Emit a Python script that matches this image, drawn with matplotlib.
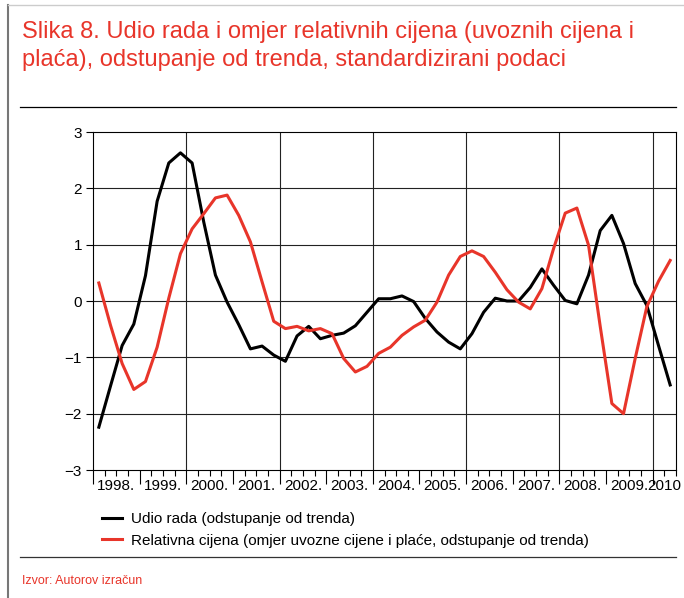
import numpy as np
import matplotlib.pyplot as plt
from matplotlib.lines import Line2D

# quarterly data 1998Q1 - 2010Q2
udio_rada = [-2.24, -1.51, -0.79, -0.41, 0.45, 1.77, 2.45, 2.63, 2.45, 1.40,
             0.46, -0.02, -0.42, -0.85, -0.80, -0.96, -1.07, -0.62, -0.45, -0.67,
             -0.61, -0.57, -0.44, -0.20, 0.04, 0.04, 0.09, -0.01, -0.31, -0.55,
             -0.73, -0.85, -0.58, -0.20, 0.05, 0.00, 0.00, 0.24, 0.57, 0.28,
             0.01, -0.05, 0.46, 1.25, 1.52, 1.02, 0.31, -0.08, -0.79, -1.49]
rel_cijena = [0.32, -0.43, -1.11, -1.57, -1.43, -0.82, 0.05, 0.84, 1.28, 1.55,
              1.83, 1.88, 1.52, 1.05, 0.34, -0.36, -0.49, -0.45, -0.53, -0.49,
              -0.58, -1.02, -1.26, -1.16, -0.93, -0.82, -0.61, -0.46, -0.34, -0.02,
              0.46, 0.79, 0.89, 0.79, 0.51, 0.20, -0.02, -0.14, 0.22, 0.93,
              1.56, 1.65, 0.99, -0.45, -1.82, -2.00, -1.02, -0.10, 0.35, 0.72]
years = ['1998.', '1999.', '2000.', '2001.', '2002.', '2003.', '2004.',
         '2005.', '2006.', '2007.', '2008.', '2009.', '2010']

RED = '#e8352a'
plt.rcParams['font.family'] = ['Liberation Sans Narrow', 'Liberation Sans', 'DejaVu Sans']

fig = plt.figure(figsize=(6.84, 5.98), dpi=100)
W, H = 684, 598

# frame and rules
fig.add_artist(Line2D([8 / W, 8 / W], [0, 1 - 5 / H], color='#777777', lw=1.5))
fig.add_artist(Line2D([8 / W, 1], [1 - 5 / H, 1 - 5 / H], color='#cccccc', lw=1))
fig.add_artist(Line2D([20 / W, 676 / W], [1 - 107 / H, 1 - 107 / H], color='black', lw=0.9))
fig.add_artist(Line2D([20 / W, 676 / W], [1 - 557 / H, 1 - 557 / H], color='#333333', lw=0.9))

fig.text(22 / W, 1 - 32 / H, 'Slika 8. Udio rada i omjer relativnih cijena (uvoznih cijena i',
         color=RED, fontsize=17, va='center', family=['Liberation Sans', 'DejaVu Sans'])
fig.text(22 / W, 1 - 60 / H, 'plaća), odstupanje od trenda, standardizirani podaci',
         color=RED, fontsize=17, va='center', family=['Liberation Sans', 'DejaVu Sans'])
fig.text(22 / W, 1 - 581 / H, 'Izvor: Autorov izračun', color=RED, fontsize=9,
         va='center', family=['Liberation Sans', 'DejaVu Sans'])

ax = fig.add_axes([93 / W, 1 - 470 / H, (676 - 93) / W, (470 - 132) / H])
x = np.arange(len(udio_rada)) + 0.5
ax.plot(x, udio_rada, color='black', lw=2.2, label='Udio rada (odstupanje od trenda)', zorder=3)
ax.plot(x, rel_cijena, color=RED, lw=2.2,
        label='Relativna cijena (omjer uvozne cijene i plaće, odstupanje od trenda)', zorder=3)

ax.set_xlim(0, 50)
ax.set_ylim(-3, 3)
ax.set_yticks(range(-3, 4))
ax.set_yticklabels(['\u22123', '\u22122', '\u22121', '0', '1', '2', '3'])
for v in range(-2, 3):
    ax.axhline(v, color='#222222', lw=0.8, zorder=1)
for v in range(8, 50, 8):
    ax.axvline(v, color='#222222', lw=0.8, zorder=1)

ax.set_xticks(range(0, 51, 4))
ax.set_xticks(range(0, 51), minor=True)
ax.set_xticklabels([])
ax.tick_params(axis='x', which='major', length=10, width=0.8, direction='out')
ax.tick_params(axis='x', which='minor', length=4, width=0.8, direction='out')
ax.tick_params(axis='y', length=5, width=0.8, labelsize=11, pad=3)
for i, lab in enumerate(years):
    xc = 4 * i + 2 if i < 12 else 49
    ax.text(xc, -3.28, lab, ha='center', va='center', fontsize=11)
for s in ax.spines.values():
    s.set_linewidth(0.8)

fig.legend(loc='upper left', bbox_to_anchor=(102 / W, 1 - 512 / H), frameon=False,
           fontsize=11, handlelength=1.3, handletextpad=0.6, labelspacing=0.5,
           borderaxespad=0, borderpad=0)

fig.savefig('out.png', dpi=100)
